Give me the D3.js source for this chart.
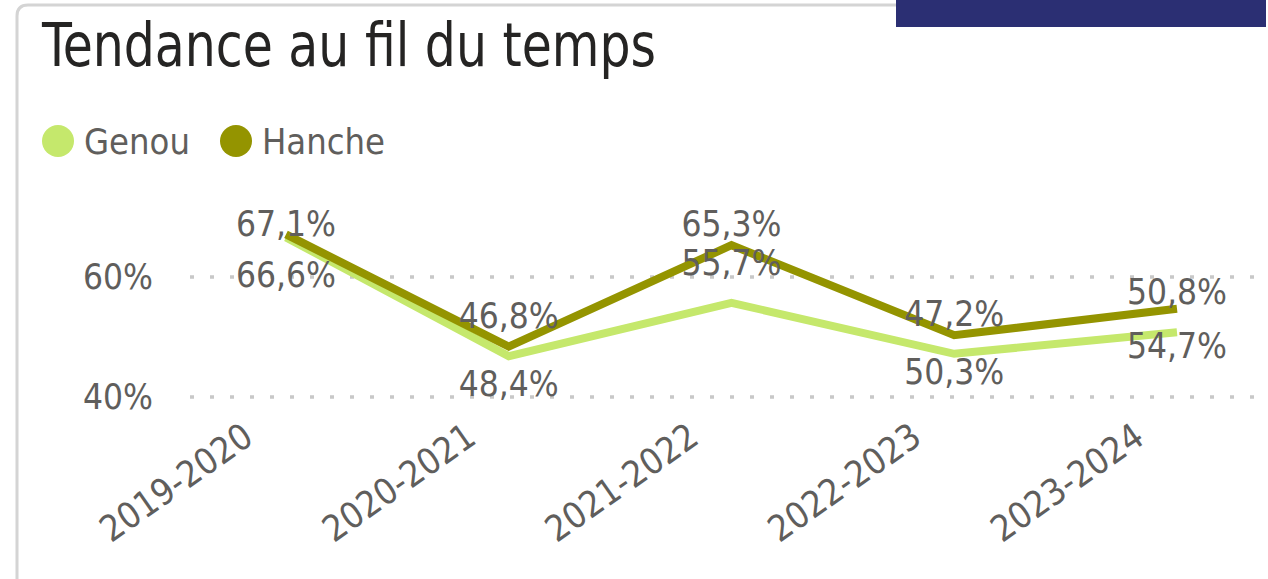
<!DOCTYPE html>
<html>
<head>
<meta charset="utf-8">
<script src="https://cdn.jsdelivr.net/npm/d3@7"></script>
<style>
  body { margin: 0; background: #fff; }
  text { font-family: "DejaVu Sans Condensed", "DejaVu Sans", sans-serif; }
</style>
</head>
<body>
<script>
//chart data
var categories = ["2019-2020", "2020-2021", "2021-2022", "2022-2023", "2023-2024"];
var genou = [66.6, 46.8, 55.7, 47.2, 50.8];
var hanche = [67.1, 48.4, 65.3, 50.3, 54.7];
var yTicks = [40, 60];
//which side of its point each data label sits on
var genouLabelSide = ["below", "above", "above", "above", "above"];
var hancheLabelSide = ["above", "below", "above", "below", "below"];

var series = [
    {name: "Genou", values: genou, sides: genouLabelSide, color: "#c5e86c"},
    {name: "Hanche", values: hanche, sides: hancheLabelSide, color: "#949400"}
];

var width = 1268, height = 579;

var svg = d3.select("body")
    .append("svg")
    .attr("width", width)
    .attr("height", height);

//frame and header bar
svg.append("path")
    .attr("d", "M17,579 V16 Q17,5 28,5 H900")
    .style("fill", "none")
    .style("stroke", "#d4d4d4")
    .style("stroke-width", 3);

svg.append("rect")
    .attr("x", 896).attr("y", 0)
    .attr("width", 370).attr("height", 27)
    .style("fill", "#2b2f73");

//title
svg.append("text")
    .attr("x", 42).attr("y", 66)
    .attr("textLength", 614)
    .attr("lengthAdjust", "spacingAndGlyphs")
    .style("font-size", "60px")
    .style("fill", "#252423")
    .text("Tendance au fil du temps");

//legend
var legend = svg.selectAll(".legend")
    .data(series)
    .enter()
    .append("g")
    .attr("class", "legend")
    .attr("transform", function(d, i){ return "translate(" + (i == 0 ? 58 : 236) + ",141)"; });

legend.append("circle")
    .attr("r", 16)
    .style("fill", function(d){ return d.color; });

legend.append("text")
    .attr("x", 26)
    .attr("dy", "0.35em")
    .style("font-size", "36px")
    .style("fill", "#605e5c")
    .text(function(d){ return d.name; });

//scales
var x = d3.scalePoint()
    .domain(categories)
    .range([286, 1177]);

var y = d3.scaleLinear()
    .domain([40, 72])
    .range([397, 205]);

//gridlines
svg.selectAll(".grid")
    .data(yTicks)
    .enter()
    .append("line")
    .attr("class", "grid")
    .attr("x1", 190).attr("x2", 1264)
    .attr("y1", function(d){ return y(d); })
    .attr("y2", function(d){ return y(d); })
    .style("stroke", "#c8c8c8")
    .style("stroke-width", 3.5)
    .style("stroke-dasharray", "4,16");

//y axis labels
var yAxis = svg.append("g")
    .attr("transform", "translate(153,0)")
    .call(d3.axisLeft(y).tickValues(yTicks).tickSize(0).tickPadding(0)
        .tickFormat(function(d){ return d + "%"; }));
yAxis.select(".domain").remove();
yAxis.selectAll("text")
    .style("font-family", "'DejaVu Sans Condensed', 'DejaVu Sans', sans-serif")
    .style("font-size", "35px")
    .style("fill", "#605e5c");

//x axis labels (tick groups are already translated to x)
var xAxis = svg.append("g")
    .call(d3.axisBottom(x).tickSize(0));
xAxis.select(".domain").remove();
xAxis.selectAll("text")
    .attr("y", 0).attr("dy", 0)
    .attr("text-anchor", "end")
    .attr("transform", "translate(-31,442) rotate(-35)")
    .style("font-family", "'DejaVu Sans Condensed', 'DejaVu Sans', sans-serif")
    .style("font-size", "36px")
    .style("fill", "#605e5c");

//lines
var line = d3.line()
    .x(function(d, i){ return x(categories[i]); })
    .y(function(d){ return y(d); });

svg.selectAll(".series")
    .data(series)
    .enter()
    .append("path")
    .attr("class", "series")
    .attr("d", function(d){ return line(d.values); })
    .style("fill", "none")
    .style("stroke", function(d){ return d.color; })
    .style("stroke-width", 8)
    .style("stroke-linejoin", "miter")
    .style("stroke-linecap", "butt");

//data labels
var fmt = function(v){ return v.toFixed(1).replace(".", ",") + "%"; };
series.forEach(function(s){
    svg.selectAll(".lbl-" + s.name)
        .data(s.values)
        .enter()
        .append("text")
        .attr("class", "lbl-" + s.name)
        .attr("x", function(d, i){ return x(categories[i]); })
        .attr("y", function(d, i){
            var cy = s.sides[i] == "above" ? y(d) - 40 : y(d) + 37;
            return Math.max(cy, 224);
        })
        .attr("dy", "0.35em")
        .attr("text-anchor", "middle")
        .style("font-size", "35px")
        .style("fill", "#605e5c")
        .text(fmt);
});
</script>
</body>
</html>
